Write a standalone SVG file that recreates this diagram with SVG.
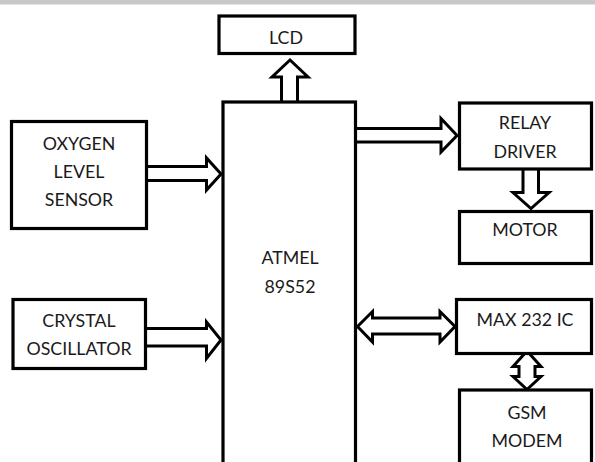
<svg xmlns="http://www.w3.org/2000/svg" width="595" height="462" viewBox="0 0 595 462">
<style>
.box{fill:#fff;stroke:#000;stroke-width:3.2}
.arr{fill:#fff;stroke:#000;stroke-width:3;stroke-linejoin:miter}
text{font-family:Lato,"Liberation Sans",sans-serif;font-size:17.8px;fill:#1a1a1a;text-anchor:middle}
</style>
<rect x="0" y="0" width="595" height="4.5" fill="#c8c8c8"/>
<g id="connectors">
<path class="arr" d="M281.5,101 V77 H272 L290,60 L308,77 H297.5 V101"/>
<path class="arr" d="M148,166.5 H206.5 V158 L221,174 L206.5,190 V180.5 H148"/>
<path class="arr" d="M147,328.5 H206.5 V322 L221,340 L206.5,358.5 V346 H147"/>
<path class="arr" d="M357,128.5 H441 V118.5 L457,135.5 L441,152 V142 H357"/>
<path class="arr" d="M523,170 V192.5 H513 L531,208.5 L549,192.5 H538.5 V170"/>
<path class="arr" d="M357.5,326.5 L372.5,311.5 V318 H440 V311.5 L455,326.5 L440,342 V334 H372.5 V342 Z"/>
<path class="arr" d="M527,351 L541,366.5 H535 V376.5 H541 L527,389.5 L513,376.5 H519 V366.5 H513 Z"/>
</g>
<g id="lcd">
<rect class="box" x="219" y="16" width="136" height="37.5" stroke-width="3.6"/>
<text x="286" y="44">LCD</text>
</g>
<g id="atmel">
<rect class="box" x="223" y="102" width="132.5" height="380"/>
<text x="290" y="264">ATMEL</text>
<text x="290" y="293">89S52</text>
</g>
<g id="oxygen">
<rect class="box" x="11.5" y="121.5" width="135" height="107"/>
<text x="79" y="150">OXYGEN</text>
<text x="79" y="178">LEVEL</text>
<text x="79" y="206">SENSOR</text>
</g>
<g id="crystal">
<rect class="box" x="13" y="299.5" width="132.5" height="69"/>
<text x="79" y="327">CRYSTAL</text>
<text x="79" y="355">OSCILLATOR</text>
</g>
<g id="relay">
<rect class="box" x="459.5" y="103" width="132" height="66"/>
<text x="525" y="129">RELAY</text>
<text x="525" y="158">DRIVER</text>
</g>
<g id="motor">
<rect class="box" x="459.5" y="211.5" width="132" height="52"/>
<text x="525" y="236">MOTOR</text>
</g>
<g id="max232">
<rect class="box" x="456.5" y="299.5" width="135" height="54"/>
<text x="525" y="326">MAX 232 IC</text>
</g>
<g id="gsm">
<rect class="box" x="459.5" y="390" width="132" height="100"/>
<text x="527" y="419">GSM</text>
<text x="527" y="447">MODEM</text>
</g>
</svg>
